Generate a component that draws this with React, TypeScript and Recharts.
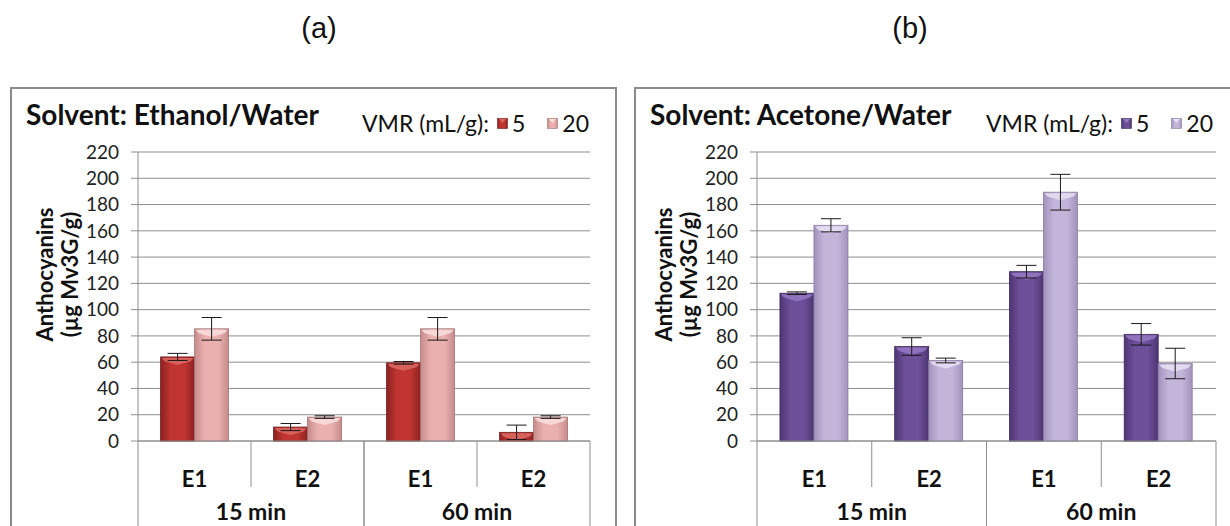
import { BarChart, Bar, XAxis, YAxis, CartesianGrid, ErrorBar, Legend } from 'recharts';

const experiments = ['E1', 'E2', 'E1', 'E2'];
const times = ['15 min', '15 min', '60 min', '60 min'];
const yTicks = [0, 20, 40, 60, 80, 100, 120, 140, 160, 180, 200, 220];
const vmrLabels = ['5', '20'];

const ethanol5 = [64, 10.6, 59.5, 6.6];
const ethanol5Err = [2.7, 2.7, 1, 5.5];
const ethanol20 = [85.4, 18.2, 85.4, 18.2];
const ethanol20Err = [8.6, 1, 8.6, 1];

const acetone5 = [112.5, 71.9, 128.9, 81.2];
const acetone5Err = [1, 6.7, 4.8, 8.2];
const acetone20 = [164.2, 61.3, 189.4, 59];
const acetone20Err = [5, 1.8, 13.6, 11.6];

const GRID = '#8e8e8e';
const Y_W = 62;
const CHART_H = 460;

const palettes = {
  red: {
    dark: { id: 'gRed5', edge: '#741a1a', mid: '#c0352f', side: '#8c2222', top: '#dc6660' },
    light: { id: 'gRed20', edge: '#a47474', mid: '#eab0ae', side: '#c68c8c', top: '#f8dcdb' },
  },
  purple: {
    dark: { id: 'gPur5', edge: '#3d295c', mid: '#6e4f99', side: '#4d3674', top: '#9477c2' },
    light: { id: 'gPur20', edge: '#8a7ca3', mid: '#c3b5d9', side: '#a192bc', top: '#e6def2' },
  },
};

type Shade = { id: string; edge: string; mid: string; side: string; top: string };

function Gradients() {
  const all: Shade[] = [palettes.red.dark, palettes.red.light, palettes.purple.dark, palettes.purple.light];
  return (
    <svg width={0} height={0} style={{ position: 'absolute' }}>
      <defs>
        {all.map((s) => (
          <linearGradient key={s.id} id={s.id} x1="0" y1="0" x2="1" y2="0">
            <stop offset="0%" stopColor={s.side} />
            <stop offset="30%" stopColor={s.mid} />
            <stop offset="70%" stopColor={s.mid} />
            <stop offset="100%" stopColor={s.side} />
          </linearGradient>
        ))}
      </defs>
    </svg>
  );
}

const BevelBar = (props: any) => {
  const { x, y, width, height, shade } = props;
  if (!height || height <= 0) return null;
  const b = Math.min(8, height);
  return (
    <g>
      <rect x={x} y={y} width={width} height={height} fill={`url(#${shade.id})`} stroke={shade.edge} strokeWidth={0.8} />
      <polygon
        points={`${x + 1},${y + 1} ${x + width - 1},${y + 1} ${x + width - 4},${y + b * 0.55} ${x + width / 2},${y + b} ${x + 4},${y + b * 0.55}`}
        fill={shade.top}
        opacity={0.9}
      />
    </g>
  );
};

function Swatch({ shade }: { shade: Shade }) {
  return (
    <svg width={11} height={11} style={{ display: 'block' }}>
      <rect x={0.5} y={0.5} width={10} height={10} fill={`url(#${shade.id})`} stroke={shade.edge} strokeWidth={0.6} />
      <polygon points="2,1 9,1 5.5,5" fill={shade.top} />
    </svg>
  );
}

const ExpTick = (props: any) => {
  const { x, y, payload } = props;
  return (
    <text x={x} y={y + 37} textAnchor="middle" dominantBaseline="central" fontSize={22} fontWeight={700} fill="#111">
      {payload.value}
    </text>
  );
};

const TimeTick = (props: any) => {
  const { x, y, payload, halfW } = props;
  const top = y - 46;
  return (
    <g>
      <line x1={x} x2={x} y1={top} y2={y} stroke={GRID} />
      <line x1={x - halfW} x2={x - halfW} y1={top} y2={y + 120} stroke={GRID} />
      <line x1={x + halfW} x2={x + halfW} y1={top} y2={y + 120} stroke={GRID} />
      <text x={x} y={y + 24} textAnchor="middle" dominantBaseline="central" fontSize={23} fontWeight={700} fill="#111">
        {payload.value}
      </text>
    </g>
  );
};

const AxisTitle = (props: any) => {
  const vb = props.viewBox;
  const ax = vb.x + vb.width;
  const cy = vb.y + vb.height / 2 - 22;
  const lines = ['Anthocyanins', '(\u00b5g Mv3G/g)'];
  const xs = [ax - 94, ax - 69];
  return (
    <g>
      {lines.map((t, i) => (
        <text
          key={t}
          x={xs[i]}
          y={cy}
          transform={`rotate(-90 ${xs[i]} ${cy})`}
          textAnchor="middle"
          dominantBaseline="central"
          fontSize={22}
          fontWeight={700}
          fill="#111"
        >
          {t}
        </text>
      ))}
    </g>
  );
};

interface PanelProps {
  left: number;
  frameW: number;
  width: number;
  marginLeft: number;
  marginRight: number;
  title: string;
  legendLeft: number;
  v5: number[];
  e5: number[];
  v20: number[];
  e20: number[];
  pal: { dark: Shade; light: Shade };
}

function Panel({ left, frameW, width, marginLeft, marginRight, title, legendLeft, v5, e5, v20, e20, pal }: PanelProps) {
  const data = experiments.map((exp, i) => ({
    exp,
    time: times[i],
    v5: v5[i],
    e5: e5[i],
    v20: v20[i],
    e20: e20[i],
  }));
  const plotW = width - marginLeft - marginRight - Y_W;
  const shades = [pal.dark, pal.light];

  return (
    <>
      <div
        style={{
          position: 'absolute',
          left,
          top: 87,
          width: frameW,
          height: 470,
          border: '2px solid #8a8a8a',
          boxSizing: 'border-box',
        }}
      />
      <div style={{ position: 'absolute', left, top: 87 }}>
        <BarChart
          width={width}
          height={CHART_H}
          data={data}
          margin={{ top: 65, right: marginRight, left: marginLeft, bottom: 0 }}
          barCategoryGap="20%"
          barGap={0}
        >
          <CartesianGrid vertical={false} stroke={GRID} />
          <XAxis
            dataKey="exp"
            height={46}
            axisLine={{ stroke: GRID }}
            tickLine={false}
            tickSize={0}
            tickMargin={0}
            interval={0}
            tick={<ExpTick />}
          />
          <XAxis
            xAxisId="time"
            dataKey="time"
            allowDuplicatedCategory={false}
            height={60}
            axisLine={false}
            tickLine={false}
            tickSize={0}
            tickMargin={0}
            interval={0}
            tick={<TimeTick halfW={plotW / 4} />}
          />
          <YAxis
            width={Y_W}
            domain={[0, 220]}
            ticks={yTicks}
            interval={0}
            axisLine={{ stroke: GRID }}
            tickLine={{ stroke: GRID }}
            tickSize={7}
            tickMargin={12}
            tick={{ fontSize: 19, fill: '#222' }}
            label={{ content: <AxisTitle /> }}
          />
          <Legend
            layout="horizontal"
            verticalAlign="middle"
            align="center"
            wrapperStyle={{ position: 'absolute', left: legendLeft, top: 22, width: 'auto' }}
            content={() => (
              <div style={{ display: 'flex', alignItems: 'center', fontSize: 23, color: '#111', whiteSpace: 'nowrap' }}>
                <span style={{ marginRight: 8 }}>VMR (mL/g):</span>
                {vmrLabels.map((lab, i) => (
                  <span key={lab} style={{ display: 'flex', alignItems: 'center', marginRight: i === 0 ? 22 : 0 }}>
                    <Swatch shade={shades[i]} />
                    <span style={{ marginLeft: 4 }}>{lab}</span>
                  </span>
                ))}
              </div>
            )}
          />
          <Bar dataKey="v5" isAnimationActive={false} shape={<BevelBar shade={pal.dark} />}>
            <ErrorBar dataKey="e5" width={10} stroke="#1a1a1a" strokeWidth={1} />
          </Bar>
          <Bar dataKey="v20" isAnimationActive={false} shape={<BevelBar shade={pal.light} />}>
            <ErrorBar dataKey="e20" width={10} stroke="#1a1a1a" strokeWidth={1} />
          </Bar>
        </BarChart>
      </div>
      <div
        style={{
          position: 'absolute',
          left: left + 16,
          top: 97,
          fontSize: 28,
          fontWeight: 700,
          color: '#111',
          whiteSpace: 'nowrap',
        }}
      >
        {title}
      </div>
    </>
  );
}

const headingStyle = {
  position: 'absolute' as const,
  top: 12,
  width: 80,
  textAlign: 'center' as const,
  fontFamily: '"Liberation Sans", Arial, sans-serif',
  fontSize: 29,
  color: '#111',
};

export default function App() {
  return (
    <div
      style={{
        position: 'absolute',
        left: 0,
        top: 0,
        width: 1230,
        height: 526,
        overflow: 'hidden',
        background: '#fff',
        fontFamily: 'Lato, "Open Sans", sans-serif',
      }}
    >
      <Gradients />
      <div style={{ ...headingStyle, left: 279 }}>(a)</div>
      <div style={{ ...headingStyle, left: 870 }}>(b)</div>
      <Panel
        left={10}
        frameW={607}
        width={607}
        marginLeft={66}
        marginRight={27}
        title="Solvent: Ethanol/Water"
        legendLeft={352}
        v5={ethanol5}
        e5={ethanol5Err}
        v20={ethanol20}
        e20={ethanol20Err}
        pal={palettes.red}
      />
      <Panel
        left={634}
        frameW={620}
        width={596}
        marginLeft={61}
        marginRight={14}
        title="Solvent: Acetone/Water"
        legendLeft={352}
        v5={acetone5}
        e5={acetone5Err}
        v20={acetone20}
        e20={acetone20Err}
        pal={palettes.purple}
      />
    </div>
  );
}
